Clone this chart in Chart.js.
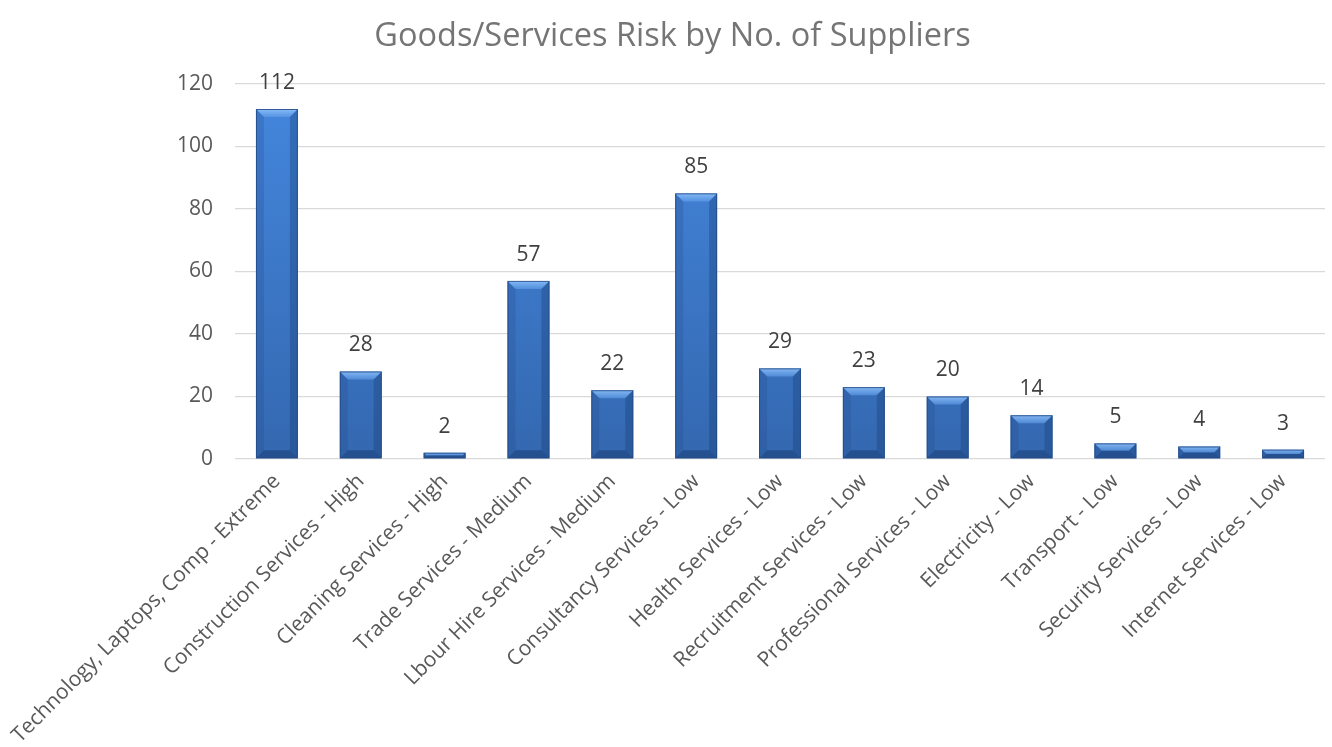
<!DOCTYPE html>
<html>
<head>
<meta charset="utf-8">
<script src="https://cdn.jsdelivr.net/npm/chart.js@4/dist/chart.umd.min.js"></script>
<style>
  html, body { margin: 0; padding: 0; background: #fff; }
  #wrap { width: 1332px; height: 747px; }
</style>
</head>
<body>
<div id="wrap"><canvas id="riskChart"></canvas></div>
<script>
'use strict';

// chart data
const categories = [
  'Technology, Laptops, Comp - Extreme',
  'Construction Services - High',
  'Cleaning Services - High',
  'Trade Services - Medium',
  'Lbour Hire Services - Medium',
  'Consultancy Services - Low',
  'Health Services - Low',
  'Recruitment Services - Low',
  'Professional Services - Low',
  'Electricity - Low',
  'Transport - Low',
  'Security Services - Low',
  'Internet Services - Low'
];
const supplierCounts = [112, 28, 2, 57, 22, 85, 29, 23, 20, 14, 5, 4, 3];
const yTicks = [0, 20, 40, 60, 80, 100, 120];

const FONT = '"Open Sans", "DejaVu Sans", sans-serif';

/**
 * Bevel overlay for each bar, drawn on top of the bars
 */
const bevelPlugin = {
  id: 'bevel',
  afterDatasetsDraw(chart) {
    const ctx = chart.ctx;
    chart.getDatasetMeta(0).data.forEach(function (bar) {
      const p = bar.getProps(['x', 'y', 'base', 'width'], true);
      const l = p.x - p.width / 2, r = p.x + p.width / 2;
      const t = p.y, b = p.base;
      const h = b - t;
      const d = Math.min(8, h / 2);
      ctx.save();
      // top bevel
      const tg = ctx.createLinearGradient(0, t, 0, t + d);
      tg.addColorStop(0, 'rgba(150, 200, 255, 0.85)');
      tg.addColorStop(1, 'rgba(100, 160, 235, 0.6)');
      ctx.fillStyle = tg;
      ctx.beginPath();
      ctx.moveTo(l, t); ctx.lineTo(r, t); ctx.lineTo(r - d, t + d); ctx.lineTo(l + d, t + d);
      ctx.closePath(); ctx.fill();
      // left bevel
      ctx.fillStyle = 'rgba(30, 70, 130, 0.22)';
      ctx.beginPath();
      ctx.moveTo(l, t); ctx.lineTo(l + d, t + d); ctx.lineTo(l + d, b - d); ctx.lineTo(l, b);
      ctx.closePath(); ctx.fill();
      // right bevel
      ctx.fillStyle = 'rgba(20, 55, 110, 0.32)';
      ctx.beginPath();
      ctx.moveTo(r, t); ctx.lineTo(r - d, t + d); ctx.lineTo(r - d, b - d); ctx.lineTo(r, b);
      ctx.closePath(); ctx.fill();
      // bottom bevel
      ctx.fillStyle = 'rgba(15, 45, 95, 0.4)';
      ctx.beginPath();
      ctx.moveTo(l, b); ctx.lineTo(l + d, b - d); ctx.lineTo(r - d, b - d); ctx.lineTo(r, b);
      ctx.closePath(); ctx.fill();
      // outline
      ctx.strokeStyle = 'rgba(35, 75, 135, 0.85)';
      ctx.lineWidth = 1;
      ctx.strokeRect(l + 0.5, t + 0.5, p.width - 1, h - 1);
      ctx.restore();
    });
  }
};

/**
 * Value labels above the bars
 */
const valueLabelPlugin = {
  id: 'valueLabels',
  afterDatasetsDraw(chart) {
    const ctx = chart.ctx;
    const meta = chart.getDatasetMeta(0);
    ctx.save();
    ctx.font = '21px ' + FONT;
    ctx.fillStyle = '#404040';
    ctx.textAlign = 'center';
    ctx.textBaseline = 'middle';
    meta.data.forEach(function (bar, i) {
      ctx.fillText(String(supplierCounts[i]), bar.x, bar.y - 26);
    });
    ctx.restore();
  }
};

const barFill = function (context) {
  const area = context.chart.chartArea;
  if (!area) return '#3a78c9';
  const g = context.chart.ctx.createLinearGradient(0, area.top, 0, area.bottom);
  g.addColorStop(0, '#4487de');
  g.addColorStop(1, '#3468b0');
  return g;
};

const ctx = document.getElementById('riskChart').getContext('2d');

const riskChart = new Chart(ctx, {
  type: 'bar',
  data: {
    labels: categories,
    datasets: [{
      label: 'No. of Suppliers',
      data: supplierCounts,
      backgroundColor: barFill,
      borderWidth: 0,
      barPercentage: 0.5,
      categoryPercentage: 1.0
    }]
  },
  options: {
    responsive: true,
    maintainAspectRatio: false,
    animation: false,
    // left padding + y axis width = 235, keeps title centred like the original
    layout: { padding: { top: 0, right: 7, bottom: 0, left: 20 } },
    plugins: {
      legend: { display: false },
      tooltip: { enabled: false },
      title: {
        display: true,
        text: 'Goods/Services Risk by No. of Suppliers',
        color: '#757575',
        font: { family: FONT, size: 32.5, weight: 'normal' },
        padding: { top: 17, bottom: 28 }
      }
    },
    scales: {
      x: {
        grid: { display: false },
        border: { display: false },
        ticks: {
          color: '#595959',
          font: { family: FONT, size: 21 },
          maxRotation: 45,
          minRotation: 45,
          autoSkip: false,
          padding: 2
        },
        afterFit: function (scale) { scale.height = 288; }
      },
      y: {
        min: 0,
        max: 120,
        afterBuildTicks: function (scale) {
          scale.ticks = yTicks.map(function (v) { return { value: v }; });
        },
        grid: { color: '#d9d9d9', lineWidth: 1.3, drawTicks: false },
        border: { display: false },
        ticks: {
          color: '#595959',
          font: { family: FONT, size: 21 },
          padding: 22
        },
        afterFit: function (scale) { scale.width = 215; }
      }
    }
  },
  plugins: [bevelPlugin, valueLabelPlugin]
});
</script>
</body>
</html>
